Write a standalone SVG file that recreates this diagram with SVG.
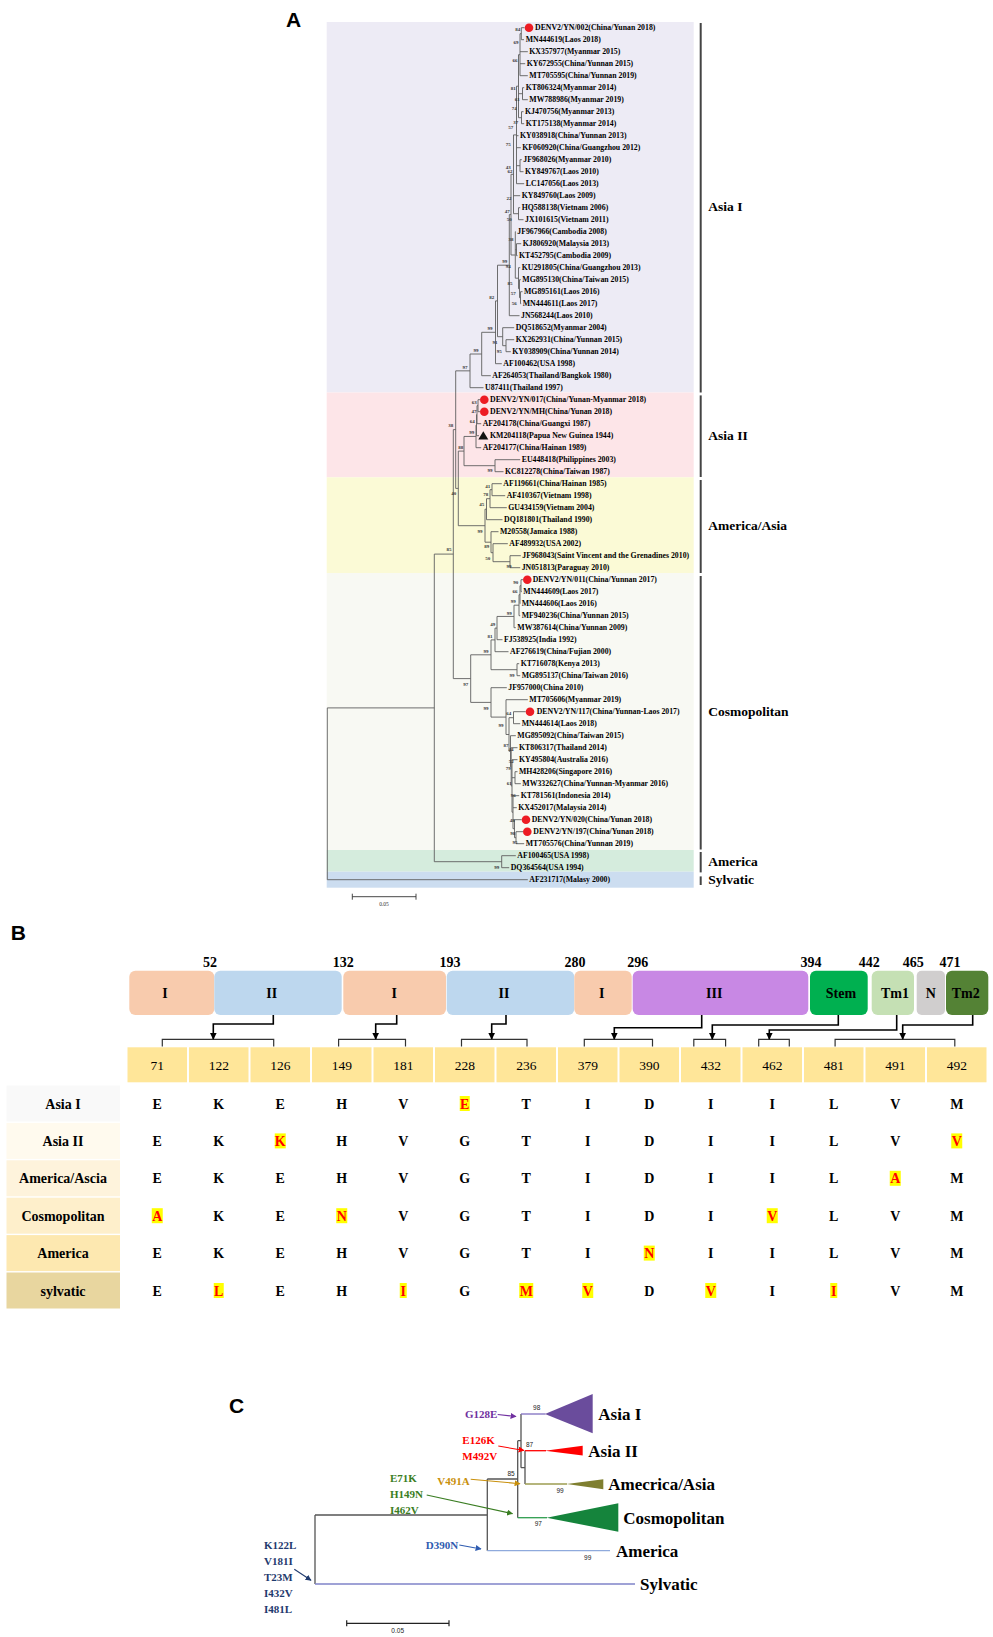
<svg xmlns="http://www.w3.org/2000/svg" width="993" height="1637" viewBox="0 0 993 1637">
<defs>
<style>
.pl{font-family:"Liberation Sans",Arial,sans-serif;font-weight:bold;font-size:21px;fill:#000}
.tip{font-family:"Liberation Serif","Times New Roman",serif;font-weight:bold;font-size:7.8px;fill:#000}
.bs{font-family:"Liberation Serif","Times New Roman",serif;font-weight:bold;font-size:5px;fill:#333;text-anchor:middle}
.cl{font-family:"Liberation Serif","Times New Roman",serif;font-weight:bold;font-size:13.5px;fill:#000}
.tree{fill:none;stroke:#5f5f5f;stroke-width:0.9}
.bar{stroke:#444;stroke-width:2}
.dom{font-family:"Liberation Serif","Times New Roman",serif;font-weight:bold;font-size:14px;fill:#000;text-anchor:middle}
.num{font-family:"Liberation Serif","Times New Roman",serif;font-weight:bold;font-size:14px;fill:#000;text-anchor:middle}
.cn{font-family:"Liberation Serif","Times New Roman",serif;font-size:13.5px;fill:#000;text-anchor:middle}
.lt{font-family:"Liberation Serif","Times New Roman",serif;font-weight:bold;font-size:14px;fill:#000;text-anchor:middle}
.lr{fill:#FF0000}
.hl{fill:#FFFF00}
.rl{font-family:"Liberation Serif","Times New Roman",serif;font-weight:bold;font-size:14px;fill:#000;text-anchor:middle}
.cell{fill:#FFE699}
.brk{fill:none;stroke:#333;stroke-width:1.2}
.arw{fill:none;stroke:#000;stroke-width:1.6}
.clab{font-family:"Liberation Serif","Times New Roman",serif;font-weight:bold;font-size:17px;fill:#000}
.mut{font-family:"Liberation Serif","Times New Roman",serif;font-weight:bold;font-size:11px}
.cbs{font-family:"Liberation Sans",Arial,sans-serif;font-size:6.5px;fill:#222;text-anchor:middle}
.ctree{fill:none;stroke:#555;stroke-width:1.3}
</style>
<marker id="ahb" viewBox="0 0 10 10" refX="9" refY="5" markerWidth="7" markerHeight="7" markerUnits="userSpaceOnUse" orient="auto"><path d="M0,0L10,5L0,10z" fill="#000"/></marker>
<marker id="ahP" viewBox="0 0 10 10" refX="9" refY="5" markerWidth="6" markerHeight="6" markerUnits="userSpaceOnUse" orient="auto"><path d="M0,0L10,5L0,10z" fill="#7030A0"/></marker>
<marker id="ahR" viewBox="0 0 10 10" refX="9" refY="5" markerWidth="6" markerHeight="6" markerUnits="userSpaceOnUse" orient="auto"><path d="M0,0L10,5L0,10z" fill="#FF0000"/></marker>
<marker id="ahO" viewBox="0 0 10 10" refX="9" refY="5" markerWidth="6" markerHeight="6" markerUnits="userSpaceOnUse" orient="auto"><path d="M0,0L10,5L0,10z" fill="#C9900C"/></marker>
<marker id="ahG" viewBox="0 0 10 10" refX="9" refY="5" markerWidth="6" markerHeight="6" markerUnits="userSpaceOnUse" orient="auto"><path d="M0,0L10,5L0,10z" fill="#3A7D22"/></marker>
<marker id="ahB" viewBox="0 0 10 10" refX="9" refY="5" markerWidth="6" markerHeight="6" markerUnits="userSpaceOnUse" orient="auto"><path d="M0,0L10,5L0,10z" fill="#2F5CB0"/></marker>
<marker id="ahN" viewBox="0 0 10 10" refX="9" refY="5" markerWidth="6" markerHeight="6" markerUnits="userSpaceOnUse" orient="auto"><path d="M0,0L10,5L0,10z" fill="#1F3A6E"/></marker>
</defs>
<rect width="993" height="1637" fill="#fff"/>

<!-- ============ PANEL A ============ -->
<g id="panelA">
<text class="pl" x="286" y="26.5">A</text>
<g id="bands">
<rect x="326.7" y="22" width="367" height="370.5" fill="#EDEBF5"/>
<rect x="326.7" y="392.5" width="367" height="84.8" fill="#FDE5E8"/>
<rect x="326.7" y="477.3" width="367" height="95.7" fill="#FBFAD6"/>
<rect x="326.7" y="573" width="367" height="277" fill="#F8F9F3"/>
<rect x="326.7" y="850" width="367" height="21.7" fill="#D5ECDD"/>
<rect x="326.7" y="871.7" width="367" height="16" fill="#CCDDF0"/>
</g>
<g id="treeA-connectors">
<path class="tree" d="M521.3,27.7V39.7M521.3,27.7H524.5M521.3,39.7H524M520,33.7V75.7M520,33.7H521.3M520,51.7H527.8M520,63.7H525.2M520,75.7H527.8M522.5,87.7V99.7M522.5,87.7H524.2M522.5,99.7H527.8M521.5,111.7V123.7M521.5,111.7H523.5M521.5,123.7H524.2M518.5,54.7V117.7M518.5,54.7H520M518.5,93.7H522.5M518.5,117.7H521.5M520,159.7V171.7M520,159.7H521.8M520,171.7H523.5M516.5,86.2V183.7M516.5,86.2H518.5M516.5,135.7H518.5M516.5,147.7H520.8M516.5,165.7H520M516.5,183.7H524.2M518.5,207.7V219.7M518.5,207.7H520.2M518.5,219.7H523.5M513.5,134.9V213.7M513.5,134.9H516.5M513.5,195.7H520.2M513.5,213.7H518.5M516.5,243.7V255.7M516.5,243.7H521.2M516.5,255.7H517.5M520.5,291.7V303.7M520.5,291.7H522.5M520.5,303.7H521.2M519.5,279.7V297.7M519.5,279.7H520.8M519.5,297.7H520.5M518.5,267.7V288.7M518.5,267.7H520.2M518.5,288.7H519.5M515.3,231.7V278.2M515.3,231.7H515.8M515.3,249.7H516.5M515.3,278.2H518.5M511,174.3V255M511,174.3H513.5M511,255H515.3M509.3,214.6V315.7M509.3,214.6H511M509.3,315.7H519.5M506,339.7V351.7M506,339.7H514.2M506,351.7H510.8M502.7,327.7V345.7M502.7,327.7H514.2M502.7,345.7H506M497.5,265.2V336.7M497.5,265.2H509.3M497.5,336.7H502.7M495.5,300.9V363.7M495.5,300.9H497.5M495.5,363.7H501.8M481.7,332.3V375.7M481.7,332.3H495.5M481.7,375.7H490.8M470,354V387.7M470,354H481.7M470,387.7H483.5
M478,399.7V411.7M478,399.7H480M478,411.7H480M477,405.7V423.7M477,405.7H478M477,423.7H481.2M476.5,414.7V435.7M476.5,414.7H477M476.5,435.7H479M476,425.2V447.7M476,425.2H476.5M476,447.7H481.2M495,459.7V471.7M495,459.7H520.2M495,471.7H503.5M464,436.45V465.7M464,436.45H476M464,465.7H495
M492,483.7V495.7M492,483.7H501.8M492,495.7H505.2M490,489.7V507.7M490,489.7H492M490,507.7H506.8M486.5,498.7V519.7M486.5,498.7H490M486.5,519.7H502.5M510,555.7V567.7M510,555.7H520.8M510,567.7H520.2M493,543.7V561.7M493,543.7H507.8M493,561.7H510M491,531.7V552.7M491,531.7H498.5M491,552.7H493M485,509.2V542.2M485,509.2H486.5M485,542.2H491
M458.3,451.1V525.7M458.3,451.1H464M458.3,525.7H485M455.7,370.85V488.4M455.7,370.85H470M455.7,488.4H458.3
M521,579.7V591.7M521,579.7H523M521,591.7H521.8M520,585.7V603.7M520,585.7H521M520,603.7H520.2M519,594.7V615.7M519,594.7H520M519,615.7H520.2M514,605.2V627.7M514,605.2H519M514,627.7H515.8M497,616.45V639.7M497,616.45H514M497,639.7H502.5M495,628.1V651.7M495,628.1H497M495,651.7H508.5M517,663.7V675.7M517,663.7H519.2M517,675.7H520.2M491,639.9V669.7M491,639.9H495M491,669.7H517
M513.5,711.7V723.7M513.5,711.7H525.7M513.5,723.7H520.2M516,831.7V843.7M516,831.7H523M516,843.7H524.2M514.5,819.7V837.7M514.5,819.7H521.7M514.5,837.7H516M513,795.7V828.7M513,795.7H519.2M513,807.7H516.8M513,828.7H514.5M515,771.7V783.7M515,771.7H517.5M515,783.7H520.8M512,759.7V812.2M512,759.7H517.5M512,777.7H515M512,812.2H513M511.2,747.7V785.95M511.2,747.7H517.5M511.2,785.95H512M510.5,735.7V766.8M510.5,735.7H515.8M510.5,766.8H511.2M509,717.7V751.25M509,717.7H513.5M509,751.25H510.5M506,699.7V734.5M506,699.7H527.8M506,734.5H509M491,687.7V717.1M491,687.7H506.8M491,717.1H506M470.7,654.8V702.4M470.7,654.8H491M470.7,702.4H491
M453.3,429.6V678.6M453.3,429.6H455.7M453.3,678.6H470.7M501.7,855.7V867.7M501.7,855.7H515.8M501.7,867.7H509.2M434.3,554.1V861.7M434.3,554.1H453.3M434.3,861.7H501.7M327.3,707.9V879.7M327.3,707.9H434.3M327.3,879.7H527.8"/>
</g>
<g id="bootstrapA">
<text class="bs" x="517.7" y="31.1">84</text><text class="bs" x="516" y="43.5">69</text><text class="bs" x="515" y="62.1">66</text><text class="bs" x="513.3" y="89.5">81</text><text class="bs" x="517.3" y="100.8">61</text><text class="bs" x="514.3" y="110.1">74</text><text class="bs" x="515.7" y="124.1">37</text><text class="bs" x="510.7" y="128.5">57</text><text class="bs" x="508.3" y="145.8">75</text><text class="bs" x="508.3" y="168.5">43</text><text class="bs" x="510" y="172.5">62</text><text class="bs" x="509" y="200.1">22</text><text class="bs" x="507.3" y="212.5">47</text><text class="bs" x="509.3" y="220.8">50</text><text class="bs" x="511" y="241.1">38</text><text class="bs" x="504.7" y="262.8">99</text><text class="bs" x="508.3" y="267.8">94</text><text class="bs" x="510" y="284.5">85</text><text class="bs" x="513.3" y="295.1">57</text><text class="bs" x="514.3" y="305.1">56</text><text class="bs" x="491.7" y="299.1">82</text><text class="bs" x="490" y="329.5">99</text><text class="bs" x="495" y="343.5">91</text><text class="bs" x="499.3" y="352.8">95</text><text class="bs" x="476" y="351.8">99</text><text class="bs" x="465" y="368.5">97</text>
<text class="bs" x="474.3" y="403.5">63</text><text class="bs" x="474" y="412.5">47</text><text class="bs" x="472.3" y="422.5">64</text><text class="bs" x="471.7" y="434.1">99</text><text class="bs" x="450.7" y="426.8">38</text><text class="bs" x="460.7" y="448.5">88</text><text class="bs" x="490" y="471.8">99</text>
<text class="bs" x="487.7" y="487.8">41</text><text class="bs" x="485.7" y="496.1">78</text><text class="bs" x="453.7" y="495.1">40</text><text class="bs" x="481.7" y="506.1">45</text><text class="bs" x="480" y="532.5">99</text><text class="bs" x="486.7" y="547.5">89</text><text class="bs" x="449" y="551.1">85</text><text class="bs" x="487.7" y="559.5">50</text><text class="bs" x="509" y="567.8">99</text>
<text class="bs" x="515.7" y="583.5">90</text><text class="bs" x="515" y="592.5">66</text><text class="bs" x="513.3" y="602.8">99</text><text class="bs" x="509.3" y="614.5">99</text><text class="bs" x="492.7" y="625.8">49</text><text class="bs" x="490" y="637.8">81</text><text class="bs" x="486" y="652.8">99</text><text class="bs" x="512" y="676.8">99</text><text class="bs" x="465.7" y="685.8">97</text><text class="bs" x="486" y="709.8">99</text><text class="bs" x="508.7" y="715.1">64</text><text class="bs" x="501" y="726.8">99</text><text class="bs" x="506" y="746.8">87</text><text class="bs" x="511" y="750.8">44</text><text class="bs" x="511.3" y="762.8">52</text><text class="bs" x="508.3" y="770.1">79</text><text class="bs" x="509.3" y="784.5">61</text><text class="bs" x="513.3" y="796.8">96</text><text class="bs" x="512.3" y="821.8">48</text><text class="bs" x="512.7" y="834.5">98</text><text class="bs" x="515" y="843.5">95</text><text class="bs" x="496.7" y="868.8">99</text>
</g>
<g id="markersA">
<circle cx="529" cy="27.7" r="4.3" fill="#ED1C24"/>
<circle cx="484.3" cy="399.7" r="4.3" fill="#ED1C24"/>
<circle cx="484.3" cy="411.7" r="4.3" fill="#ED1C24"/>
<path d="M483.3,431.2L488.3,439.6L478.3,439.6z" fill="#111"/>
<circle cx="527.3" cy="579.7" r="4.3" fill="#ED1C24"/>
<circle cx="530" cy="711.7" r="4.3" fill="#ED1C24"/>
<circle cx="526" cy="819.7" r="4.3" fill="#ED1C24"/>
<circle cx="527.3" cy="831.7" r="4.3" fill="#ED1C24"/>
</g>
<g id="tipsA">
<text class="tip" x="535" y="30.4">DENV2/YN/002(China/Yunan 2018)</text>
<text class="tip" x="525.7" y="42.4">MN444619(Laos 2018)</text>
<text class="tip" x="529.3" y="54.4">KX357977(Myanmar 2015)</text>
<text class="tip" x="526.7" y="66.4">KY672955(China/Yunnan 2015)</text>
<text class="tip" x="529.3" y="78.4">MT705595(China/Yunnan 2019)</text>
<text class="tip" x="525.7" y="90.4">KT806324(Myanmar 2014)</text>
<text class="tip" x="529.3" y="102.4">MW788986(Myanmar 2019)</text>
<text class="tip" x="525" y="114.4">KJ470756(Myanmar 2013)</text>
<text class="tip" x="525.7" y="126.4">KT175138(Myanmar 2014)</text>
<text class="tip" x="520" y="138.4">KY038918(China/Yunnan 2013)</text>
<text class="tip" x="522.3" y="150.4">KF060920(China/Guangzhou 2012)</text>
<text class="tip" x="523.3" y="162.4">JF968026(Myanmar 2010)</text>
<text class="tip" x="525" y="174.4">KY849767(Laos 2010)</text>
<text class="tip" x="525.7" y="186.4">LC147056(Laos 2013)</text>
<text class="tip" x="521.7" y="198.4">KY849760(Laos 2009)</text>
<text class="tip" x="521.7" y="210.4">HQ588138(Vietnam 2006)</text>
<text class="tip" x="525" y="222.4">JX101615(Vietnam 2011)</text>
<text class="tip" x="517.3" y="234.4">JF967966(Cambodia 2008)</text>
<text class="tip" x="522.7" y="246.4">KJ806920(Malaysia 2013)</text>
<text class="tip" x="519" y="258.4">KT452795(Cambodia 2009)</text>
<text class="tip" x="521.7" y="270.4">KU291805(China/Guangzhou 2013)</text>
<text class="tip" x="522.3" y="282.4">MG895130(China/Taiwan 2015)</text>
<text class="tip" x="524" y="294.4">MG895161(Laos 2016)</text>
<text class="tip" x="522.7" y="306.4">MN444611(Laos 2017)</text>
<text class="tip" x="521" y="318.4">JN568244(Laos 2010)</text>
<text class="tip" x="515.7" y="330.4">DQ518652(Myanmar 2004)</text>
<text class="tip" x="515.7" y="342.4">KX262931(China/Yunnan 2015)</text>
<text class="tip" x="512.3" y="354.4">KY038909(China/Yunnan 2014)</text>
<text class="tip" x="503.3" y="366.4">AF100462(USA 1998)</text>
<text class="tip" x="492.3" y="378.4">AF264053(Thailand/Bangkok 1980)</text>
<text class="tip" x="485" y="390.4">U87411(Thailand 1997)</text>
<text class="tip" x="490" y="402.4">DENV2/YN/017(China/Yunan-Myanmar 2018)</text>
<text class="tip" x="490" y="414.4">DENV2/YN/MH(China/Yunan 2018)</text>
<text class="tip" x="482.7" y="426.4">AF204178(China/Guangxi 1987)</text>
<text class="tip" x="490" y="438.4">KM204118(Papua New Guinea 1944)</text>
<text class="tip" x="482.7" y="450.4">AF204177(China/Hainan 1989)</text>
<text class="tip" x="521.7" y="462.4">EU448418(Philippines 2003)</text>
<text class="tip" x="505" y="474.4">KC812278(China/Taiwan 1987)</text>
<text class="tip" x="503.3" y="486.4">AF119661(China/Hainan 1985)</text>
<text class="tip" x="506.7" y="498.4">AF410367(Vietnam 1998)</text>
<text class="tip" x="508.3" y="510.4">GU434159(Vietnam 2004)</text>
<text class="tip" x="504" y="522.4">DQ181801(Thailand 1990)</text>
<text class="tip" x="500" y="534.4">M20558(Jamaica 1988)</text>
<text class="tip" x="509.3" y="546.4">AF489932(USA 2002)</text>
<text class="tip" x="522.3" y="558.4">JF968043(Saint Vincent and the Grenadines 2010)</text>
<text class="tip" x="521.7" y="570.4">JN051813(Paraguay 2010)</text>
<text class="tip" x="532.7" y="582.4">DENV2/YN/011(China/Yunnan 2017)</text>
<text class="tip" x="523.3" y="594.4">MN444609(Laos 2017)</text>
<text class="tip" x="521.7" y="606.4">MN444606(Laos 2016)</text>
<text class="tip" x="521.7" y="618.4">MF940236(China/Yunnan 2015)</text>
<text class="tip" x="517.3" y="630.4">MW387614(China/Yunnan 2009)</text>
<text class="tip" x="504" y="642.4">FJ538925(India 1992)</text>
<text class="tip" x="510" y="654.4">AF276619(China/Fujian 2000)</text>
<text class="tip" x="520.7" y="666.4">KT716078(Kenya 2013)</text>
<text class="tip" x="521.7" y="678.4">MG895137(China/Taiwan 2016)</text>
<text class="tip" x="508.3" y="690.4">JF957000(China 2010)</text>
<text class="tip" x="529.3" y="702.4">MT705606(Myanmar 2019)</text>
<text class="tip" x="536.7" y="714.4">DENV2/YN/117(China/Yunnan-Laos 2017)</text>
<text class="tip" x="521.7" y="726.4">MN444614(Laos 2018)</text>
<text class="tip" x="517.3" y="738.4">MG895092(China/Taiwan 2015)</text>
<text class="tip" x="519" y="750.4">KT806317(Thailand 2014)</text>
<text class="tip" x="519" y="762.4">KY495804(Australia 2016)</text>
<text class="tip" x="519" y="774.4">MH428206(Singapore 2016)</text>
<text class="tip" x="522.3" y="786.4">MW332627(China/Yunnan-Myanmar 2016)</text>
<text class="tip" x="520.7" y="798.4">KT781561(Indonesia 2014)</text>
<text class="tip" x="518.3" y="810.4">KX452017(Malaysia 2014)</text>
<text class="tip" x="531.7" y="822.4">DENV2/YN/020(China/Yunan 2018)</text>
<text class="tip" x="533.3" y="834.4">DENV2/YN/197(China/Yunan 2018)</text>
<text class="tip" x="525.7" y="846.4">MT705576(China/Yunnan 2019)</text>
<text class="tip" x="517.3" y="858.4">AF100465(USA 1998)</text>
<text class="tip" x="510.7" y="870.4">DQ364564(USA 1994)</text>
<text class="tip" x="529.3" y="882.4">AF231717(Malasy 2000)</text>
</g>
<g id="cladesA">
<line class="bar" x1="700.7" y1="23" x2="700.7" y2="392.5"/>
<line class="bar" x1="700.7" y1="395.4" x2="700.7" y2="477"/>
<line class="bar" x1="700.7" y1="480" x2="700.7" y2="573"/>
<line class="bar" x1="700.7" y1="576" x2="700.7" y2="849.4"/>
<line class="bar" x1="700.7" y1="852" x2="700.7" y2="872.4"/>
<line class="bar" x1="700.7" y1="876.4" x2="700.7" y2="885"/>
<text class="cl" x="708.3" y="211">Asia I</text>
<text class="cl" x="708.3" y="440">Asia II</text>
<text class="cl" x="708.3" y="530">America/Asia</text>
<text class="cl" x="708.3" y="716">Cosmopolitan</text>
<text class="cl" x="708.3" y="866">America</text>
<text class="cl" x="708.3" y="884">Sylvatic</text>
</g>
<g id="scaleA">
<path d="M352.3,896.7H416M352.3,893.7V899.7M416,893.7V899.7" fill="none" stroke="#333" stroke-width="0.9"/>
<text class="bs" x="384" y="905.5" style="font-weight:normal;font-size:5.5px">0.05</text>
</g>
</g>

<!-- ============ PANEL B ============ -->
<g id="panelB">
<text class="pl" x="10.7" y="940">B</text>
<g id="domains">
<g id="dom-I-1"><rect x="129.3" y="970.7" width="85" height="44.3" rx="6" fill="#F8CBAD"/><text class="dom" x="165" y="997.5">I</text></g>
<g id="dom-II-1"><rect x="214.3" y="970.7" width="127.4" height="44.3" rx="6" fill="#BDD7EE"/><text class="dom" x="271.7" y="997.5">II</text></g>
<g id="dom-I-2"><rect x="343.3" y="970.7" width="102.7" height="44.3" rx="6" fill="#F8CBAD"/><text class="dom" x="394.3" y="997.5">I</text></g>
<g id="dom-II-2"><rect x="446.7" y="970.7" width="127.6" height="44.3" rx="6" fill="#BDD7EE"/><text class="dom" x="504" y="997.5">II</text></g>
<g id="dom-I-3"><rect x="574.3" y="970.7" width="57.4" height="44.3" rx="6" fill="#F8CBAD"/><text class="dom" x="601.7" y="997.5">I</text></g>
<g id="dom-III"><rect x="632.7" y="970.7" width="175.6" height="44.3" rx="6" fill="#C888E4"/><text class="dom" x="714.3" y="997.5">III</text></g>
<g id="dom-Stem"><rect x="810" y="970.7" width="57.7" height="44.3" rx="6" fill="#00B050"/><text class="dom" x="841" y="997.5">Stem</text></g>
<g id="dom-Tm1"><rect x="871.7" y="970.7" width="42.3" height="44.3" rx="6" fill="#C5E0B4"/><text class="dom" x="895" y="997.5">Tm1</text></g>
<g id="dom-N"><rect x="916.7" y="970.7" width="28.3" height="44.3" rx="5" fill="#D0CECE"/><text class="dom" x="930.7" y="997.5">N</text></g>
<g id="dom-Tm2"><rect x="946" y="970.7" width="42.3" height="44.3" rx="6" fill="#548235"/><text class="dom" x="965.7" y="997.5">Tm2</text></g>
</g>
<g id="boundaries">
<text class="dom" x="210" y="966.5">52</text>
<text class="dom" x="343.3" y="966.5">132</text>
<text class="dom" x="450" y="966.5">193</text>
<text class="dom" x="575" y="966.5">280</text>
<text class="dom" x="637.7" y="966.5">296</text>
<text class="dom" x="811" y="966.5">394</text>
<text class="dom" x="869.3" y="966.5">442</text>
<text class="dom" x="913.3" y="966.5">465</text>
<text class="dom" x="950" y="966.5">471</text>
</g>
<g id="connectorsB">
<path class="brk" d="M162.3,1046.5V1039.3H273.7V1046.5M338.6,1046.5V1039.3H405.5V1046.5M461.5,1046.5V1039.3H527V1046.5M584.3,1046.5V1039.3H652.5V1046.5M693.8,1046.5V1039.3H725.6V1046.5M758.7,1046.5V1039.3H789.3V1046.5M835.1,1046.5V1039.3H954.8V1046.5"/>
<path class="arw" d="M273.3,1015V1024H213.3V1039" marker-end="url(#ahb)"/>
<path class="arw" d="M396.7,1015V1024H375.7V1039" marker-end="url(#ahb)"/>
<path class="arw" d="M506,1015V1024H491.7V1039" marker-end="url(#ahb)"/>
<path class="arw" d="M701.7,1015V1027.7H614.3V1039" marker-end="url(#ahb)"/>
<path class="arw" d="M838.3,1015V1025H712.3V1039" marker-end="url(#ahb)"/>
<path class="arw" d="M896.7,1015V1030H769.3V1039" marker-end="url(#ahb)"/>
<path class="arw" d="M972.7,1015V1025H902.7V1039" marker-end="url(#ahb)"/>
</g>
<g id="positions">
<rect class="cell" x="127.5" y="1047.3" width="59.5" height="35"/><rect class="cell" x="189" y="1047.3" width="59.5" height="35"/><rect class="cell" x="250.5" y="1047.3" width="59.5" height="35"/><rect class="cell" x="312" y="1047.3" width="59.5" height="35"/><rect class="cell" x="373.5" y="1047.3" width="59.5" height="35"/><rect class="cell" x="435" y="1047.3" width="59.5" height="35"/><rect class="cell" x="496.5" y="1047.3" width="59.5" height="35"/><rect class="cell" x="558" y="1047.3" width="59.5" height="35"/><rect class="cell" x="619.5" y="1047.3" width="59.5" height="35"/><rect class="cell" x="681" y="1047.3" width="59.5" height="35"/><rect class="cell" x="742.5" y="1047.3" width="59.5" height="35"/><rect class="cell" x="804" y="1047.3" width="59.5" height="35"/><rect class="cell" x="865.5" y="1047.3" width="59.5" height="35"/><rect class="cell" x="927" y="1047.3" width="59.5" height="35"/>
<text class="cn" x="157.25" y="1069.5">71</text><text class="cn" x="218.75" y="1069.5">122</text><text class="cn" x="280.25" y="1069.5">126</text><text class="cn" x="341.75" y="1069.5">149</text><text class="cn" x="403.25" y="1069.5">181</text><text class="cn" x="464.75" y="1069.5">228</text><text class="cn" x="526.25" y="1069.5">236</text><text class="cn" x="587.75" y="1069.5">379</text><text class="cn" x="649.25" y="1069.5">390</text><text class="cn" x="710.75" y="1069.5">432</text><text class="cn" x="772.25" y="1069.5">462</text><text class="cn" x="833.75" y="1069.5">481</text><text class="cn" x="895.25" y="1069.5">491</text><text class="cn" x="956.75" y="1069.5">492</text>
</g>
<g id="rowlabels">
<rect x="6.5" y="1085.5" width="113.5" height="36" fill="#F9F9F9"/>
<rect x="6.5" y="1122.9" width="113.5" height="36" fill="#FFFAEE"/>
<rect x="6.5" y="1160.3" width="113.5" height="36" fill="#FEF3DC"/>
<rect x="6.5" y="1197.7" width="113.5" height="36" fill="#FEEFCB"/>
<rect x="6.5" y="1235.1" width="113.5" height="36" fill="#FDE8B0"/>
<rect x="6.5" y="1272.5" width="113.5" height="36" fill="#E8D69F"/>
<text class="rl" x="63" y="1108.5">Asia I</text>
<text class="rl" x="63" y="1145.9">Asia II</text>
<text class="rl" x="63" y="1183.3">America/Ascia</text>
<text class="rl" x="63" y="1220.7">Cosmopolitan</text>
<text class="rl" x="63" y="1258.1">America</text>
<text class="rl" x="63" y="1295.5">sylvatic</text>
</g>
<g id="highlights">
<rect class="hl" x="459.75" y="1096" width="10" height="15"/>
<rect class="hl" x="274.75" y="1133.4" width="11" height="15"/>
<rect class="hl" x="951.25" y="1133.4" width="11" height="15"/>
<rect class="hl" x="889.75" y="1170.8" width="11" height="15"/>
<rect class="hl" x="151.75" y="1208.2" width="11" height="15"/>
<rect class="hl" x="336.25" y="1208.2" width="11" height="15"/>
<rect class="hl" x="766.75" y="1208.2" width="11" height="15"/>
<rect class="hl" x="643.75" y="1245.6" width="11" height="15"/>
<rect class="hl" x="213.75" y="1283" width="10" height="15"/>
<rect class="hl" x="399.75" y="1283" width="7" height="15"/>
<rect class="hl" x="519.25" y="1283" width="14" height="15"/>
<rect class="hl" x="582.25" y="1283" width="11" height="15"/>
<rect class="hl" x="705.25" y="1283" width="11" height="15"/>
<rect class="hl" x="830.25" y="1283" width="7" height="15"/>
</g>
<g id="residues">
<text class="lt" y="1108.5"><tspan x="157.25">E</tspan><tspan x="218.75">K</tspan><tspan x="280.25">E</tspan><tspan x="341.75">H</tspan><tspan x="403.25">V</tspan><tspan x="464.75" class="lr">E</tspan><tspan x="526.25">T</tspan><tspan x="587.75">I</tspan><tspan x="649.25">D</tspan><tspan x="710.75">I</tspan><tspan x="772.25">I</tspan><tspan x="833.75">L</tspan><tspan x="895.25">V</tspan><tspan x="956.75">M</tspan></text>
<text class="lt" y="1145.9"><tspan x="157.25">E</tspan><tspan x="218.75">K</tspan><tspan x="280.25" class="lr">K</tspan><tspan x="341.75">H</tspan><tspan x="403.25">V</tspan><tspan x="464.75">G</tspan><tspan x="526.25">T</tspan><tspan x="587.75">I</tspan><tspan x="649.25">D</tspan><tspan x="710.75">I</tspan><tspan x="772.25">I</tspan><tspan x="833.75">L</tspan><tspan x="895.25">V</tspan><tspan x="956.75" class="lr">V</tspan></text>
<text class="lt" y="1183.3"><tspan x="157.25">E</tspan><tspan x="218.75">K</tspan><tspan x="280.25">E</tspan><tspan x="341.75">H</tspan><tspan x="403.25">V</tspan><tspan x="464.75">G</tspan><tspan x="526.25">T</tspan><tspan x="587.75">I</tspan><tspan x="649.25">D</tspan><tspan x="710.75">I</tspan><tspan x="772.25">I</tspan><tspan x="833.75">L</tspan><tspan x="895.25" class="lr">A</tspan><tspan x="956.75">M</tspan></text>
<text class="lt" y="1220.7"><tspan x="157.25" class="lr">A</tspan><tspan x="218.75">K</tspan><tspan x="280.25">E</tspan><tspan x="341.75" class="lr">N</tspan><tspan x="403.25">V</tspan><tspan x="464.75">G</tspan><tspan x="526.25">T</tspan><tspan x="587.75">I</tspan><tspan x="649.25">D</tspan><tspan x="710.75">I</tspan><tspan x="772.25" class="lr">V</tspan><tspan x="833.75">L</tspan><tspan x="895.25">V</tspan><tspan x="956.75">M</tspan></text>
<text class="lt" y="1258.1"><tspan x="157.25">E</tspan><tspan x="218.75">K</tspan><tspan x="280.25">E</tspan><tspan x="341.75">H</tspan><tspan x="403.25">V</tspan><tspan x="464.75">G</tspan><tspan x="526.25">T</tspan><tspan x="587.75">I</tspan><tspan x="649.25" class="lr">N</tspan><tspan x="710.75">I</tspan><tspan x="772.25">I</tspan><tspan x="833.75">L</tspan><tspan x="895.25">V</tspan><tspan x="956.75">M</tspan></text>
<text class="lt" y="1295.5"><tspan x="157.25">E</tspan><tspan x="218.75" class="lr">L</tspan><tspan x="280.25">E</tspan><tspan x="341.75">H</tspan><tspan x="403.25" class="lr">I</tspan><tspan x="464.75">G</tspan><tspan x="526.25" class="lr">M</tspan><tspan x="587.75" class="lr">V</tspan><tspan x="649.25">D</tspan><tspan x="710.75" class="lr">V</tspan><tspan x="772.25">I</tspan><tspan x="833.75" class="lr">I</tspan><tspan x="895.25">V</tspan><tspan x="956.75">M</tspan></text>
</g>
</g>

<!-- ============ PANEL C ============ -->
<g id="panelC">
<text class="pl" x="229" y="1412.5">C</text>
<g id="treeC-connectors">
<path class="ctree" d="M315,1515V1584M315,1515H487.3M487.3,1479V1550.7M487.3,1479H517.7M517.7,1440.7V1517.7M517.7,1440.7H521M521,1414V1467.7M521,1467.7H525M525,1450.7V1484"/>
<path d="M487.3,1550.7H610" stroke="#8FAADC" stroke-width="1.3"/>
<path d="M315,1584H635" stroke="#7F83C9" stroke-width="1.3"/>
<path d="M517.7,1517.7H547" stroke="#2E9E4F" stroke-width="1.3"/>
<path d="M521,1414H545.5" stroke="#7F6FC0" stroke-width="1.3"/>
<path d="M525,1450.7H546" stroke="#FF0000" stroke-width="1.3"/>
<path d="M525,1484H567" stroke="#9C9C50" stroke-width="1.3"/>
</g>
<g id="clade-AsiaI"><path d="M545,1414L592.7,1394L592.7,1433.3z" fill="#6A4C9C"/><text class="clab" x="598.3" y="1420">Asia I</text></g>
<g id="clade-AsiaII"><path d="M545,1450.7L582.7,1445.8L582.7,1455.6z" fill="#FF0000"/><text class="clab" x="588.3" y="1456.5">Asia II</text></g>
<g id="clade-AmAsia"><path d="M566.7,1484L603.3,1479.3L603.3,1489.3z" fill="#7F7F30"/><text class="clab" x="608.3" y="1490">Amecrica/Asia</text></g>
<g id="clade-Cosmo"><path d="M546.7,1517.7L618.3,1503.3L618.3,1531.7z" fill="#15843C"/><text class="clab" x="623.3" y="1523.5">Cosmopolitan</text></g>
<g id="clade-America"><text class="clab" x="616" y="1556.5">America</text></g>
<g id="clade-Sylvatic"><text class="clab" x="640" y="1590">Sylvatic</text></g>
<g id="bootstrapC">
<text class="cbs" x="536.7" y="1410">98</text>
<text class="cbs" x="529.5" y="1447.3">87</text>
<text class="cbs" x="511" y="1475.6">85</text>
<text class="cbs" x="560" y="1493">99</text>
<text class="cbs" x="538.3" y="1526.3">97</text>
<text class="cbs" x="587.7" y="1559.6">99</text>
</g>
<g id="mutations">
<text class="mut" x="465" y="1418" fill="#7030A0">G128E</text>
<path d="M497.7,1414.5L516,1416.5" stroke="#7030A0" stroke-width="1.1" marker-end="url(#ahP)"/>
<text class="mut" x="462.3" y="1444" fill="#FF0000">E126K</text>
<text class="mut" x="462.3" y="1459.8" fill="#FF0000">M492V</text>
<path d="M498.3,1446L524,1450.5" stroke="#FF0000" stroke-width="1.1" marker-end="url(#ahR)"/>
<text class="mut" x="437.3" y="1484.7" fill="#C9900C">V491A</text>
<path d="M470.7,1479.3L520,1483.7" stroke="#C9900C" stroke-width="1.1" marker-end="url(#ahO)"/>
<text class="mut" x="390" y="1482.3" fill="#3A7D22">E71K</text>
<text class="mut" x="390" y="1498" fill="#3A7D22">H149N</text>
<text class="mut" x="390" y="1514" fill="#3A7D22">I462V</text>
<path d="M426.7,1495L512.5,1513.7" stroke="#3A7D22" stroke-width="1.1" marker-end="url(#ahG)"/>
<text class="mut" x="425.7" y="1549" fill="#2F5CB0">D390N</text>
<path d="M459.3,1545L481,1549" stroke="#2F5CB0" stroke-width="1.1" marker-end="url(#ahB)"/>
<text class="mut" x="264" y="1549" fill="#1F3A6E">K122L</text>
<text class="mut" x="264" y="1564.7" fill="#1F3A6E">V181I</text>
<text class="mut" x="264" y="1580.7" fill="#1F3A6E">T23M</text>
<text class="mut" x="264" y="1596.7" fill="#1F3A6E">I432V</text>
<text class="mut" x="264" y="1613" fill="#1F3A6E">I481L</text>
<path d="M294.3,1569.3L311,1580.3" stroke="#1F3A6E" stroke-width="1.1" marker-end="url(#ahN)"/>
</g>
<g id="scaleC">
<path d="M346.7,1623.3H449M346.7,1620.3V1626.3M449,1620.3V1626.3" fill="none" stroke="#222" stroke-width="1.2"/>
<text class="cbs" x="397.7" y="1633">0.05</text>
</g>
</g>
</svg>
